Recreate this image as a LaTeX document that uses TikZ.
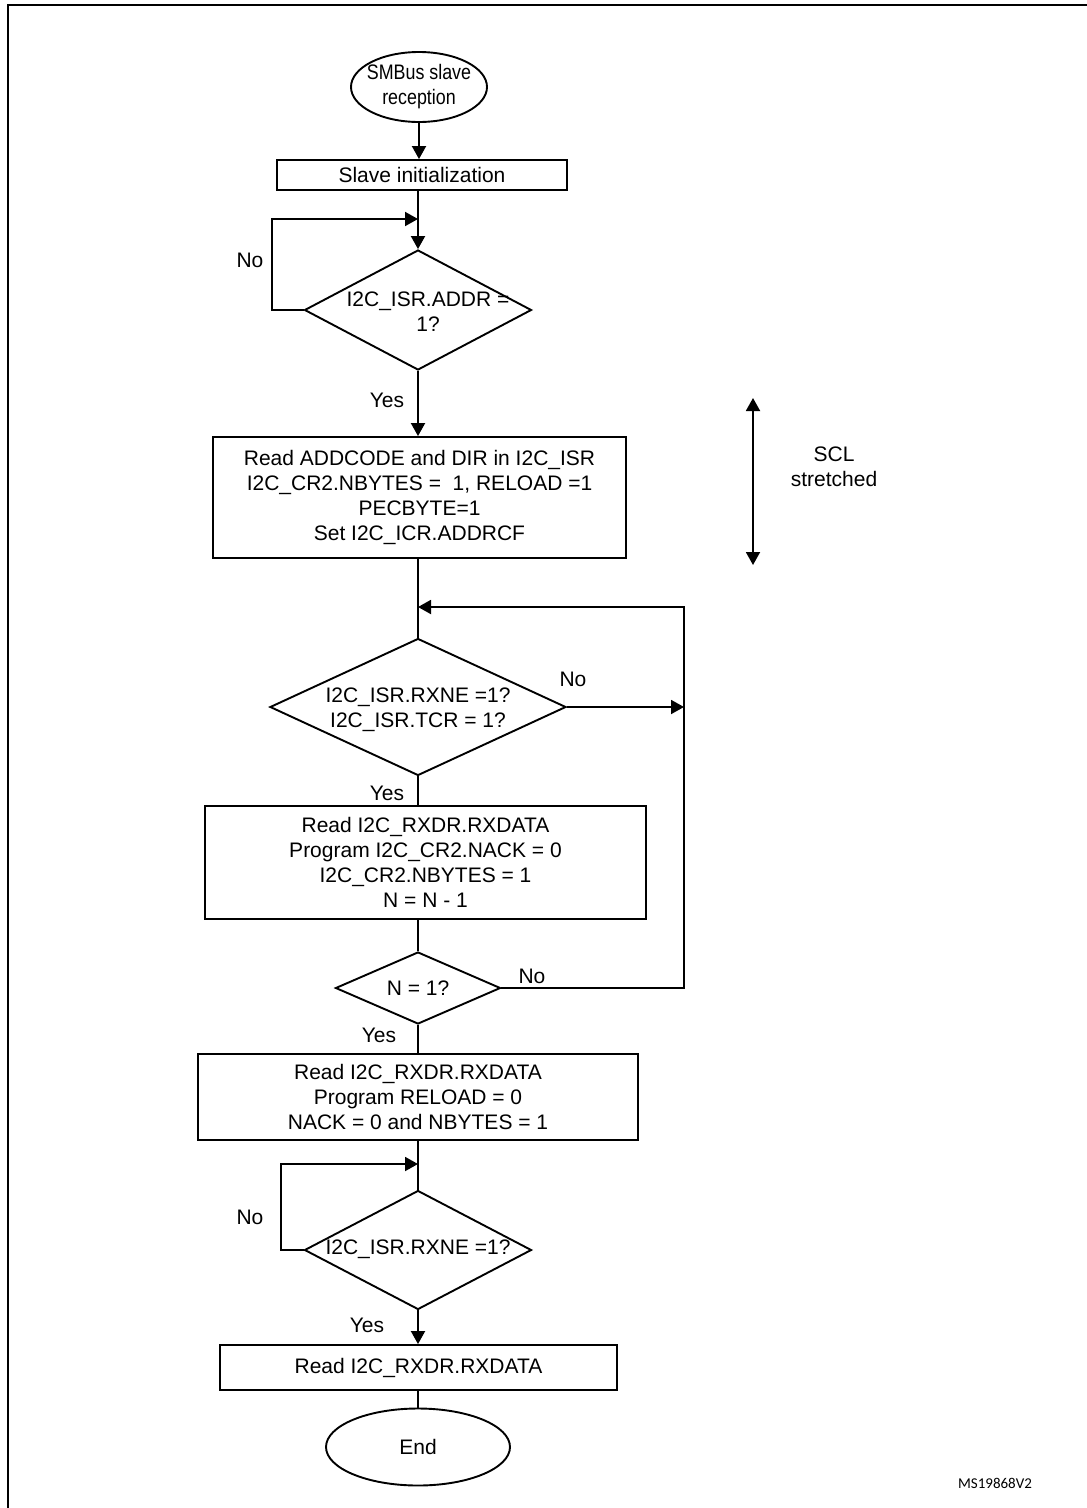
\documentclass[tikz,border=0pt]{standalone}
\usepackage{fontspec}
\setmainfont{Liberation Sans}
\newfontfamily\calib{Carlito}
\usetikzlibrary{shapes.geometric,arrows.meta}
\begin{document}
\begin{tikzpicture}[x=1pt,y=-1pt,
  every node/.style={font=\fontsize{21}{25}\selectfont},
  ln/.style={line width=1.9pt},
  arr/.style={ln,-{Triangle[length=13pt,width=14pt]}},
  dia/.style={draw,ln,diamond,inner sep=0pt},
  ell/.style={draw,ln,ellipse,inner sep=0pt},
  boxx/.style={draw,ln,rectangle,inner sep=0pt,align=center},
  txt/.style={align=center,inner sep=0pt},
  lbl/.style={inner sep=0pt}]
\useasboundingbox (0,0) rectangle (1087,1508);
% frame
\coordinate (fb) at (8,1508);
\coordinate (ftl) at (8,5);
\coordinate (ftr) at (1087,5);
\draw[line width=2pt] (fb) -- (ftl) -- (ftr);

% nodes
\node[ell,minimum width=136pt,minimum height=70pt] (start) at (419,87) {};
\node[txt] (starttxt) at (419,87) {\scalebox{0.85}[1]{SMBus slave}\\\scalebox{0.85}[1]{reception}};
\node[boxx,minimum width=290pt,minimum height=30pt] (init) at (422,175) {Slave initialization};
\node[dia,minimum width=227pt,minimum height=120pt] (d1) at (418,310) {};
\node[txt] (d1txt) at (428,312) {I2C\_ISR.ADDR =\\1?};
\node[boxx,minimum width=413pt,minimum height=121pt] (b2) at (419.5,497.5)
  {Read ADDCODE and DIR in I2C\_ISR\\I2C\_CR2.NBYTES = \ 1, RELOAD =1\\PECBYTE=1\\Set I2C\_ICR.ADDRCF};
\node[dia,minimum width=296pt,minimum height=137pt] (d3) at (418,707) {};
\node[txt] (d3txt) at (418,710) {I2C\_ISR.RXNE =1?\\I2C\_ISR.TCR = 1?};
\node[boxx,minimum width=441pt,minimum height=113pt] (b3) at (425.5,862.5)
  {Read I2C\_RXDR.RXDATA\\Program I2C\_CR2.NACK = 0\\I2C\_CR2.NBYTES = 1\\N = N - 1};
\node[dia,minimum width=165pt,minimum height=72pt] (d4) at (418,988) {};
\node[txt] (d4txt) at (418,988) {N = 1?};
\node[boxx,minimum width=440pt,minimum height=86pt] (b4) at (418,1097)
  {Read I2C\_RXDR.RXDATA\\Program RELOAD = 0\\NACK = 0 and NBYTES = 1};
\node[dia,minimum width=227pt,minimum height=119pt] (d5) at (418,1250) {};
\node[txt] (d5txt) at (418,1249) {I2C\_ISR.RXNE =1?};
\node[boxx,minimum width=397pt,minimum height=45pt] (b5) at (418.5,1367.5) {Read I2C\_RXDR.RXDATA};
\node[ell,minimum width=184pt,minimum height=77pt] (end) at (418,1447) {};
\node[txt] (endtxt) at (418,1447) {End};

% junction coordinates
\coordinate (j1) at (418,219);
\coordinate (l1) at (272,310);
\coordinate (j3) at (418,607);
\coordinate (r3) at (684,707);
\coordinate (r4) at (684,988);
\coordinate (j5) at (418,1164);
\coordinate (l5) at (281,1250);

% connectors
\draw[arr] (start.south) -- (start.south |- init.north);
\draw[arr] (init.south -| d1.north) -- (d1.north);
\draw[arr] (d1.west) -- (l1) |- (j1);
\draw[arr] (d1.south) -- (d1.south |- b2.north);
\draw[ln] (b2.south -| d3.north) -- (d3.north);
\draw[arr] (d3.east) -- (r3);
\draw[arr] (d4.east) -- (r4) |- (j3);
\draw[ln] (d3.south) -- (d3.south |- b3.north);
\draw[ln] (b3.south -| d4.north) -- (d4.north);
\draw[ln] (d4.south) -- (b4.north);
\draw[ln] (b4.south) -- (d5.north);
\draw[arr] (d5.west) -- (l5) |- (j5);
\draw[arr] (d5.south) -- (b5.north -| d5.south);
\draw[ln] (b5.south -| end.north) -- (end.north);

% labels
\node[lbl] (no1) at (250,260) {No};
\node[lbl] (yes1) at (387,400) {Yes};
\node[lbl] (no3) at (573,679) {No};
\node[lbl] (yes3) at (387,793) {Yes};
\node[lbl] (no4) at (532,976) {No};
\node[lbl] (yes4) at (379,1035) {Yes};
\node[lbl] (no5) at (250,1217) {No};
\node[lbl] (yes5) at (367,1325) {Yes};

% SCL stretched
\coordinate (sclt) at (753,398);
\coordinate (sclb) at (753,565);
\draw[ln,{Triangle[length=13pt,width=14pt]}-{Triangle[length=13pt,width=14pt]}] (sclt) -- (sclb);
\node[txt] (scl) at (834,467) {SCL\\stretched};

\node[lbl,font=\calib\fontsize{15}{18}\selectfont] (ms) at (995,1483) {MS19868V2};
\end{tikzpicture}
\end{document}
